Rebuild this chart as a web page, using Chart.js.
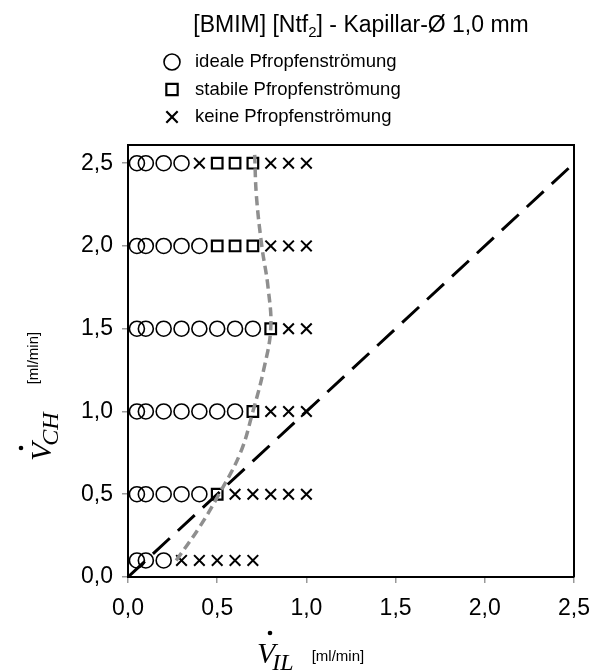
<!DOCTYPE html>
<html lang="de">
<head>
<meta charset="utf-8">
<title>BMIM Ntf2 Kapillar 1,0 mm</title>
<script src="https://cdn.jsdelivr.net/npm/chart.js@4/dist/chart.umd.min.js"></script>
<style>
    html, body { margin: 0; padding: 0; background: #fff; }
    canvas { display: block; }
</style>
</head>
<body>
<canvas id="flow-map" width="593" height="671"></canvas>
<script>
// Flow regime map: ionic liquid flow (x) vs. hydrocarbon flow (y), ml/min

// ideale Pfropfenströmung
const idealX = [0.05, 0.1, 0.2, 0.3,
                0.05, 0.1, 0.2, 0.3, 0.4,
                0.05, 0.1, 0.2, 0.3, 0.4, 0.5, 0.6, 0.7,
                0.05, 0.1, 0.2, 0.3, 0.4, 0.5, 0.6,
                0.05, 0.1, 0.2, 0.3, 0.4,
                0.05, 0.1, 0.2];
const idealY = [2.5, 2.5, 2.5, 2.5,
                2.0, 2.0, 2.0, 2.0, 2.0,
                1.5, 1.5, 1.5, 1.5, 1.5, 1.5, 1.5, 1.5,
                1.0, 1.0, 1.0, 1.0, 1.0, 1.0, 1.0,
                0.5, 0.5, 0.5, 0.5, 0.5,
                0.1, 0.1, 0.1];

// stabile Pfropfenströmung
const stableX = [0.5, 0.6, 0.7, 0.5, 0.6, 0.7, 0.8, 0.7, 0.5];
const stableY = [2.5, 2.5, 2.5, 2.0, 2.0, 2.0, 1.5, 1.0, 0.5];

// keine Pfropfenströmung
const noneX = [0.4, 0.8, 0.9, 1.0,
               0.8, 0.9, 1.0,
               0.9, 1.0,
               0.8, 0.9, 1.0,
               0.6, 0.7, 0.8, 0.9, 1.0,
               0.3, 0.4, 0.5, 0.6, 0.7];
const noneY = [2.5, 2.5, 2.5, 2.5,
               2.0, 2.0, 2.0,
               1.5, 1.5,
               1.0, 1.0, 1.0,
               0.5, 0.5, 0.5, 0.5, 0.5,
               0.1, 0.1, 0.1, 0.1, 0.1];

// equal flow rate line and regime boundary
const diagX = [0, 2.5];
const diagY = [0, 2.5];
const boundaryX = [0.27, 0.40, 0.51, 0.63, 0.70, 0.76, 0.80, 0.785, 0.75, 0.72, 0.71];
const boundaryY = [0.10, 0.30, 0.50, 0.75, 1.00, 1.25, 1.50, 1.75, 2.00, 2.30, 2.55];

const axisTicks = [0, 0.5, 1.0, 1.5, 2.0, 2.5];

const legendItems = [
    { style: 'circle', width: 1.6, text: 'ideale Pfropfenströmung' },
    { style: 'rect', width: 2.2, text: 'stabile Pfropfenströmung' },
    { style: 'crossRot', width: 2.2, text: 'keine Pfropfenströmung' }
];

const SANS = "'Liberation Sans', Arial, sans-serif";
const SERIF = "'Liberation Serif', 'Times New Roman', serif";

function toPoints(xs, ys) {
    return xs.map((x, i) => ({ x: x, y: ys[i] }));
}

function fmt(v) {
    return v.toFixed(1).replace('.', ',');
}

// title, legend, frame and the axis titles with dotted V
const decorations = {
    id: 'decorations',
    afterDraw(chart) {
        const ctx = chart.ctx;
        const area = chart.chartArea;
        ctx.save();

        // top and right frame
        ctx.strokeStyle = '#000';
        ctx.lineWidth = 2;
        ctx.beginPath();
        ctx.moveTo(area.left, area.top);
        ctx.lineTo(area.right, area.top);
        ctx.lineTo(area.right, area.bottom);
        ctx.stroke();

        // title with subscript
        ctx.fillStyle = '#000';
        ctx.textBaseline = 'alphabetic';
        ctx.textAlign = 'left';
        const parts = [
            { t: '[BMIM] [Ntf', size: 23, dy: 0 },
            { t: '2', size: 15, dy: 5 },
            { t: '] - Kapillar-Ø 1,0 mm', size: 23, dy: 0 }
        ];
        let total = 0;
        parts.forEach(p => {
            ctx.font = p.size + 'px ' + SANS;
            p.w = ctx.measureText(p.t).width;
            total += p.w;
        });
        let tx = 361 - total / 2;
        parts.forEach(p => {
            ctx.font = p.size + 'px ' + SANS;
            ctx.fillText(p.t, tx, 32 + p.dy);
            tx += p.w;
        });

        // legend
        ctx.font = '18.5px ' + SANS;
        ctx.textBaseline = 'middle';
        legendItems.forEach((item, i) => {
            const y = 62 + i * 27.5;
            ctx.strokeStyle = '#000';
            ctx.fillStyle = 'rgba(0,0,0,0)';
            ctx.lineWidth = item.width;
            Chart.helpers.drawPoint(ctx, { pointStyle: item.style, radius: 8, rotation: 0, borderWidth: item.width }, 172, y);
            ctx.fillStyle = '#000';
            ctx.fillText(item.text, 195, y);
        });

        // x axis title
        drawFlowLabel(ctx, 257, 663, 'IL', 0, 18);
        // y axis title (rotated)
        ctx.save();
        ctx.translate(51, 461);
        ctx.rotate(-Math.PI / 2);
        drawFlowLabel(ctx, 0, 0, 'CH', -11, 28);
        ctx.restore();

        ctx.restore();
    }
};

function drawFlowLabel(ctx, x, y, sub, unitDy, gap) {
    ctx.fillStyle = '#000';
    ctx.textBaseline = 'alphabetic';
    ctx.textAlign = 'left';
    ctx.font = 'italic 30px ' + SERIF;
    ctx.fillText('V', x, y);
    const vw = ctx.measureText('V').width;
    // dot above V
    ctx.beginPath();
    ctx.arc(x + 13, y - 30, 2.3, 0, Math.PI * 2);
    ctx.fill();
    ctx.font = 'italic 24px ' + SERIF;
    ctx.fillText(sub, x + vw - 3, y + 7);
    const sw = ctx.measureText(sub).width;
    ctx.font = '15px ' + SANS;
    ctx.fillText('[ml/min]', x + vw - 3 + sw + gap, y - 2 + unitDy);
}

const ctx = document.getElementById('flow-map').getContext('2d');

new Chart(ctx, {
    type: 'scatter',
    data: {
        datasets: [
            {
                label: 'boundary',
                data: toPoints(boundaryX, boundaryY),
                showLine: true,
                borderColor: '#8f8f8f',
                borderWidth: 3.5,
                borderDash: [9, 5],
                tension: 0.4,
                pointRadius: 0
            },
            {
                label: 'diagonal',
                data: toPoints(diagX, diagY),
                showLine: true,
                borderColor: '#000',
                borderWidth: 3,
                borderDash: [23, 11],
                pointRadius: 0
            },
            {
                label: 'ideale Pfropfenströmung',
                data: toPoints(idealX, idealY),
                pointStyle: 'circle',
                pointRadius: 7.5,
                borderColor: '#000',
                backgroundColor: 'rgba(0,0,0,0)',
                borderWidth: 1.6
            },
            {
                label: 'stabile Pfropfenströmung',
                data: toPoints(stableX, stableY),
                pointStyle: 'rect',
                pointRadius: 7.5,
                borderColor: '#000',
                backgroundColor: 'rgba(0,0,0,0)',
                borderWidth: 2.2
            },
            {
                label: 'keine Pfropfenströmung',
                data: toPoints(noneX, noneY),
                pointStyle: 'crossRot',
                pointRadius: 7.5,
                borderColor: '#000',
                borderWidth: 2
            }
        ]
    },
    options: {
        responsive: false,
        animation: false,
        devicePixelRatio: 1,
        layout: { padding: { top: 145, right: 19, left: 0, bottom: 0 } },
        plugins: {
            legend: { display: false },
            tooltip: { enabled: false }
        },
        scales: {
            x: {
                type: 'linear',
                min: 0,
                max: 2.5,
                afterFit: s => { s.height = 94; s.paddingLeft = 0; s.paddingRight = 0; },
                afterBuildTicks: s => { s.ticks = axisTicks.map(v => ({ value: v })); },
                ticks: {
                    color: '#000',
                    font: { family: SANS, size: 23 },
                    padding: 12,
                    maxRotation: 0,
                    callback: v => fmt(v)
                },
                grid: { drawOnChartArea: false, drawTicks: true, tickLength: 6, color: '#999', lineWidth: 1.5 },
                border: { display: true, color: '#000', width: 2 }
            },
            y: {
                type: 'linear',
                min: 0,
                max: 2.61,
                afterFit: s => { s.width = 128; s.paddingTop = 0; s.paddingBottom = 0; },
                afterBuildTicks: s => { s.ticks = axisTicks.map(v => ({ value: v })); },
                ticks: {
                    color: '#000',
                    font: { family: SANS, size: 23 },
                    padding: 9,
                    callback: v => fmt(v)
                },
                grid: { drawOnChartArea: false, drawTicks: true, tickLength: 6, color: '#999', lineWidth: 1.5 },
                border: { display: true, color: '#000', width: 2 }
            }
        }
    },
    plugins: [decorations]
});
</script>
</body>
</html>
